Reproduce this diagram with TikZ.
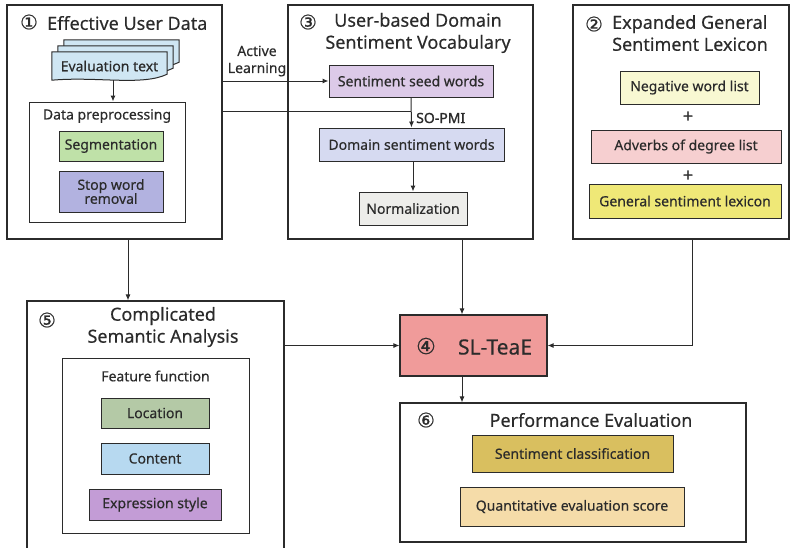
\documentclass[tikz,border=0pt]{standalone}
\usepackage{fontspec}
\setmainfont{Noto Sans}[FakeBold=0.35]
\newfontfamily\heavyfont{Noto Sans}[FakeBold=1.3]
\newfontfamily\circfont{DejaVu Sans}[FakeBold=0.6]
\usetikzlibrary{arrows.meta}

\definecolor{ink}{HTML}{2B2B2B}
\definecolor{docblue}{HTML}{CFE6F3}
\definecolor{seggreen}{HTML}{BFE1A8}
\definecolor{swrblue}{HTML}{B2B2E0}
\definecolor{seedlilac}{HTML}{DCCAE8}
\definecolor{dswblue}{HTML}{D6DAF1}
\definecolor{normgray}{HTML}{EDEDEA}
\definecolor{negyellow}{HTML}{F8F8D2}
\definecolor{advpink}{HTML}{F6CFD0}
\definecolor{gslyellow}{HTML}{EFE877}
\definecolor{locgreen}{HTML}{B4C9A6}
\definecolor{contblue}{HTML}{B7D9F0}
\definecolor{exprlilac}{HTML}{C39CD6}
\definecolor{corered}{HTML}{F09B9A}
\definecolor{scgold}{HTML}{D9BF5F}
\definecolor{qessand}{HTML}{F5DCA9}

\newcommand{\bodyfont}{\fontsize{14}{17}\selectfont}
\newcommand{\headfont}{\fontsize{18}{22}\selectfont}

\begin{document}
\begin{tikzpicture}[x=1pt, y=-1pt, color=ink, text=ink,
	frame/.style = {draw, line width=1.1pt, inner sep=0pt},
	item/.style = {draw, line width=1pt, inner sep=0pt, font=\bodyfont},
	head/.style = {font=\headfont, inner sep=0pt},
	num/.style = {font=\fontsize{20}{22}\selectfont\circfont, inner sep=0pt},
	lbl/.style = {font=\bodyfont, inner sep=0pt},
	plus/.style = {font=\fontsize{18}{18}\selectfont\heavyfont, inner sep=0pt},
	arr/.style = {line width=1pt, -{Latex[length=6pt,width=5pt]}}]
	\useasboundingbox (0,0) rectangle (792,547);
	% outer frames
	\node[frame, minimum width=215, minimum height=234] (eud) at (114.5,122) {};
	\node[frame, minimum width=245, minimum height=234] (sdv) at (410.5,122) {};
	\node[frame, minimum width=216, minimum height=234] (egl) at (681,122) {};
	\node[frame, minimum width=257, minimum height=252] (csa) at (155.5,427) {};
	\node[frame, minimum width=346, minimum height=139] (pe) at (573,472.5) {};
	\node[frame, fill=corered, minimum width=147, minimum height=61] (core) at (473.5,345.5) {};
	% 1
	\node[num] (n1) at (29,22) {①};
	\node[head, anchor=west] (t1) at (47,23) {Effective User Data};
	\node[lbl, minimum width=115, minimum height=28] (evdoc) at (109.5,66) {};
	\foreach \o in {12,6,0}
		\draw[line width=1pt, fill=docblue] ([shift={(\o,-\o)}]evdoc.south west) -- ([shift={(\o,-\o)}]evdoc.north west)
			-- ([shift={(\o,-\o)}]evdoc.north east) -- ([shift={(\o,-\o-6)}]evdoc.south east)
			.. controls ([shift={(\o-25,-\o+6)}]evdoc.south east) and ([shift={(\o+45,-\o-4)}]evdoc.south west)
			.. ([shift={(\o,-\o)}]evdoc.south west) -- cycle;
	\node[lbl] (evtext) at (evdoc) {Evaluation text};
	\node[item, minimum width=156, minimum height=120] (dp) at (107,162) {};
	\node[lbl] (dptitle) at (107,116) {Data preprocessing};
	\node[item, fill=seggreen, minimum width=104, minimum height=30] (seg) at (111,146) {Segmentation};
	\node[item, fill=swrblue, minimum width=104, minimum height=41, align=center] (swr) at (111,191.5)
		{Stop word\\[-3pt]removal};
	% 3
	\node[num] (n3) at (308,22) {③};
	\node[head, align=center] (t3) at (418,33) {User-based Domain\\Sentiment Vocabulary};
	\node[item, fill=seedlilac, minimum width=164, minimum height=32] (seed) at (411,81) {Sentiment seed words};
	\node[item, fill=dswblue, minimum width=185, minimum height=33] (dsw) at (411.5,144.5) {Domain sentiment words};
	\node[item, fill=normgray, minimum width=108, minimum height=33] (norm) at (413,208.5) {Normalization};
	\node[lbl, align=center] (al) at (257,61) {Active\\Learning};
	\node[lbl, anchor=west, font=\bodyfont\heavyfont] (sopmi) at (416,118) {SO-PMI};
	% 2
	\node[num] (n2) at (594,24) {②};
	\node[head, align=left, anchor=west] (t2) at (612,33) {Expanded General\\Sentiment Lexicon};
	\node[item, fill=negyellow, minimum width=139, minimum height=33] (neg) at (689.5,87.5) {Negative word list};
	\node[plus] (plus1) at (688,117) {+};
	\node[item, fill=advpink, minimum width=190, minimum height=33] (adv) at (686,146.5) {Adverbs of degree list};
	\node[plus] (plus2) at (688,176) {+};
	\node[item, fill=gslyellow, minimum width=192, minimum height=34] (gsl) at (685,201) {General sentiment lexicon};
	% 5
	\node[num] (n5) at (47,320) {⑤};
	\node[head, align=center] (t5) at (163,327) {Complicated\\Semantic Analysis};
	\node[item, minimum width=187, minimum height=175] (ff) at (155.5,445.5) {};
	\node[lbl] (fftitle) at (155.5,376) {Feature function};
	\node[item, fill=locgreen, minimum width=108, minimum height=30] (loc) at (155,413) {Location};
	\node[item, fill=contblue, minimum width=108, minimum height=31] (cont) at (155,458.5) {Content};
	\node[item, fill=exprlilac, minimum width=132, minimum height=31] (expr) at (155,504.5) {Expression style};
	% 4
	\node[num, font=\fontsize{22}{25}\selectfont\circfont] (n4) at (426,346) {④};
	\node[head, font=\fontsize{21}{25}\selectfont] (t4) at (495,347) {SL-TeaE};
	% 6
	\node[num] (n6) at (426,420) {⑥};
	\node[head] (t6) at (591,420) {Performance Evaluation};
	\node[item, fill=scgold, minimum width=201, minimum height=37] (sc) at (572.5,453.5) {Sentiment classification};
	\node[item, fill=qessand, minimum width=224, minimum height=39] (qes) at (572,506.5) {Quantitative evaluation score};
	% connectors
	\coordinate (xa) at (113,0);
	\coordinate (xb) at (128,0);
	\coordinate (xc) at (462,0);
	\coordinate (xd) at (692,0);
	\coordinate (ya) at (0,111);
	\draw[arr] (evdoc.south -| xa) -- (dp.north -| xa);
	\draw[arr] (eud.east |- seed.west) -- (seed.west);
	\draw[arr] (seed.south) -- (dsw.north);
	\draw[line width=1pt] (eud.east |- ya) -- (seed.south |- ya);
	\draw[arr] (dsw.south -| norm.north) -- (norm.north);
	\draw[arr] (eud.south -| xb) -- (csa.north -| xb);
	\draw[arr] (csa.east |- core.west) -- (core.west);
	\draw[arr] (sdv.south -| xc) -- (core.north -| xc);
	\draw[arr] (egl.south -| xd) |- (core.east);
	\draw[arr] (core.south -| xc) -- (pe.north -| xc);
\end{tikzpicture}
\end{document}
